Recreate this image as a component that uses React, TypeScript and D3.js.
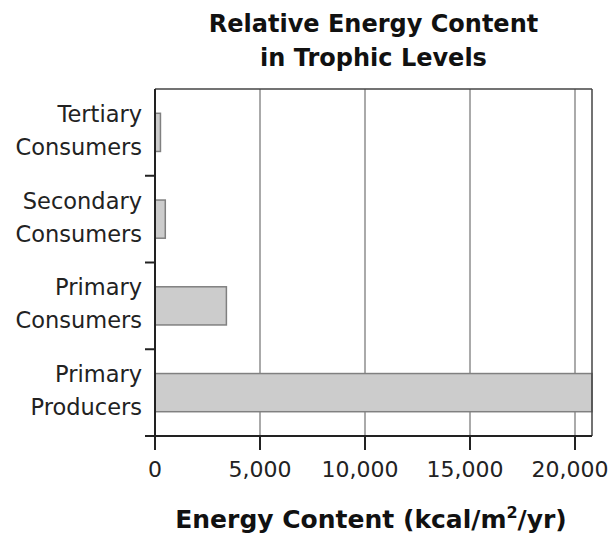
import React from 'react';
import * as d3 from 'd3';

const levels = ['Tertiary Consumers', 'Secondary Consumers', 'Primary Consumers', 'Primary Producers'];
const labelLines = [['Tertiary', 'Consumers'], ['Secondary', 'Consumers'], ['Primary', 'Consumers'], ['Primary', 'Producers']];
const energy = [260, 490, 3400, 20810];
const xTicks = [0, 5000, 10000, 15000, 20000];

const W = 613;
const H = 538;
const margin = { top: 89, right: 21, bottom: 102, left: 155 };

export default function App() {
  const x = d3.scaleLinear().domain([0, 20810]).range([margin.left, W - margin.right]);
  const y = d3.scaleBand<string>().domain(levels).range([margin.top, H - margin.bottom]).padding(0);
  const bh = y.bandwidth() * 0.44;
  const x0 = x(0);
  const yb = H - margin.bottom;
  const xr = W - margin.right;
  const fmt = d3.format(',');
  const font = 'DejaVu Sans, Verdana, sans-serif';

  return (
    <svg width={W} height={H} style={{ position: 'absolute', left: 0, top: 0 }} fontFamily={font}>
      <rect x={0} y={0} width={W} height={H} fill="#fff" />
      <text x={(x0 + xr) / 2} y={32} textAnchor="middle" fontWeight="bold" fontSize={24} fill="#111">
        Relative Energy Content
      </text>
      <text x={(x0 + xr) / 2} y={66} textAnchor="middle" fontWeight="bold" fontSize={24} fill="#111">
        in Trophic Levels
      </text>

      {/* grid */}
      {xTicks.filter(t => t > 0).map(t => (
        <line key={t} x1={x(t)} x2={x(t)} y1={margin.top} y2={yb} stroke="#aaa" strokeWidth={2} />
      ))}

      {/* bars */}
      {levels.map((l, i) => {
        const cy = (y(l) as number) + y.bandwidth() / 2;
        return (
          <rect key={l} x={x0} y={cy - bh / 2} width={x(energy[i]) - x0} height={bh}
            fill="#cccccc" stroke="#808080" strokeWidth={1.5} />
        );
      })}

      {/* frame */}
      <line x1={x0} x2={xr} y1={margin.top} y2={margin.top} stroke="#444" strokeWidth={1.5} />
      <line x1={xr} x2={xr} y1={margin.top} y2={yb} stroke="#444" strokeWidth={1.5} />
      <line x1={x0 - 10} x2={xr} y1={yb} y2={yb} stroke="#222" strokeWidth={2} />
      <line x1={x0} x2={x0} y1={margin.top} y2={yb + 14} stroke="#222" strokeWidth={2} />

      {/* y ticks at band edges */}
      {levels.slice(1).map(l => (
        <line key={l} x1={x0 - 10} x2={x0} y1={y(l)} y2={y(l)} stroke="#222" strokeWidth={2} />
      ))}

      {/* x ticks */}
      {xTicks.map((t, i) => (
        <g key={t}>
          <line x1={x(t)} x2={x(t)} y1={yb} y2={yb + 14} stroke="#222" strokeWidth={2} />
          <text x={x(t) - (i > 1 ? 5 : 0)} y={477} textAnchor="middle" fontSize={22} fill="#222">{fmt(t)}</text>
        </g>
      ))}

      {/* category labels */}
      {levels.map((l, i) => {
        const cy = (y(l) as number) + y.bandwidth() / 2;
        return (
          <text key={l} textAnchor="end" fontSize={22.5} fill="#222">
            <tspan x={142} y={cy - 10.5}>{labelLines[i][0]}</tspan>
            <tspan x={142} y={cy + 22.5}>{labelLines[i][1]}</tspan>
          </text>
        );
      })}

      <text x={371} y={528} textAnchor="middle" fontWeight="bold" fontSize={25} fill="#111">
        Energy Content (kcal/m<tspan dy={-10} fontSize={16}>2</tspan><tspan dy={10}>/yr)</tspan>
      </text>
    </svg>
  );
}
